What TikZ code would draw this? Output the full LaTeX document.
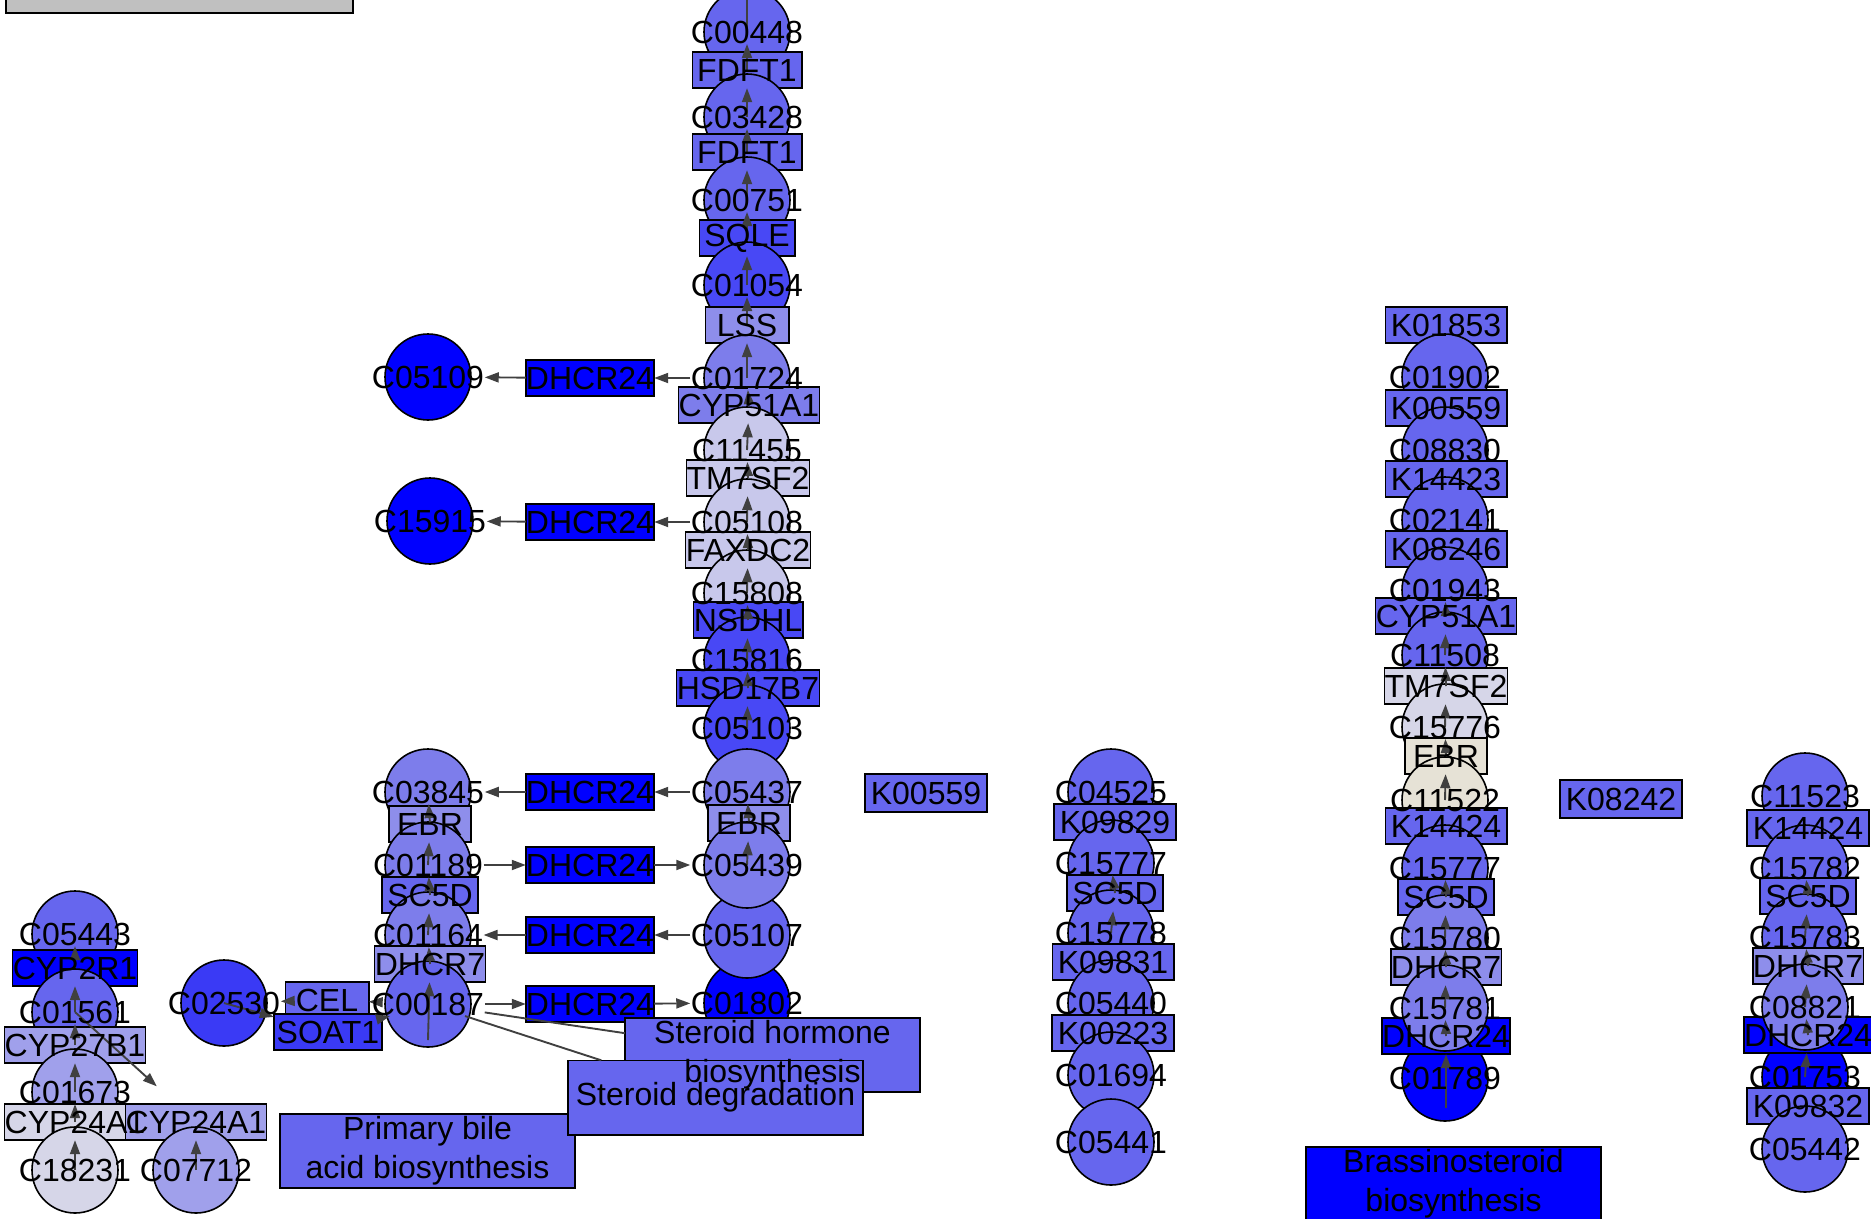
\documentclass[tikz,border=0pt]{standalone}
\usepackage{fontspec}
\setmainfont{Liberation Sans}
\usetikzlibrary{arrows.meta, calc}

\definecolor{kblue}{RGB}{0,0,255}
\definecolor{k80}{RGB}{58,58,245}
\definecolor{k70}{RGB}{72,72,245}
\definecolor{k60}{RGB}{102,102,238}
\definecolor{k50}{RGB}{125,125,235}
\definecolor{k45}{RGB}{142,142,235}
\definecolor{k35}{RGB}{160,160,235}
\definecolor{k20}{RGB}{200,200,235}
\definecolor{k10}{RGB}{214,214,232}
\definecolor{kbeige}{RGB}{230,226,214}
\definecolor{kgray}{RGB}{192,192,192}
\definecolor{klink}{RGB}{64,64,64}

\pgfdeclarelayer{shapes}
\pgfdeclarelayer{links}
\pgfsetlayers{shapes,links,main}

\newcommand{\keggfont}{\fontsize{32}{39}\selectfont}

\begin{document}
\begin{tikzpicture}[
        x=1pt, y=-1pt,
        every node/.style={font=\keggfont, text=black},
        cpd/.style={inner sep=0.5pt,
            append after command={\pgfextra{\begin{pgfonlayer}{shapes}
                \draw[line width=1.6pt, fill=#1] (\tikzlastnode.center) circle[radius=43pt];
            \end{pgfonlayer}}}},
        gene/.style={inner sep=0pt, minimum height=36pt,
            append after command={\pgfextra{\begin{pgfonlayer}{shapes}
                \draw[line width=1.6pt, fill=#1] (\tikzlastnode.south west) rectangle (\tikzlastnode.north east);
            \end{pgfonlayer}}}},
        pathway/.style={gene=#1, minimum width=295pt, minimum height=74pt, align=center},
        link/.style={draw=klink, line width=1.9pt, -{Triangle[length=14pt, width=10pt]}}
    ]

    \useasboundingbox (0,0) rectangle (1871,1218);

    \node[gene=kgray, minimum width=347, minimum height=60] (cutoff) at (179.5,-17) {};

    % main column
    \node[cpd=k60] (c00448) at (747,32) {C00448};
    \node[gene=k60, minimum width=109] (fdft1a) at (747,70) {FDFT1};
    \node[cpd=k60] (c03428) at (747,117) {C03428};
    \node[gene=k60, minimum width=109] (fdft1b) at (747,152) {FDFT1};
    \node[cpd=k60] (c00751) at (747,200) {C00751};
    \node[gene=k70, minimum width=95] (sqle) at (747,238) {SQLE};
    \node[cpd=k70] (c01054) at (747,285) {C01054};
    \node[gene=k45, minimum width=83] (lss) at (747,325) {LSS};
    \node[cpd=k50] (c01724) at (747,378) {C01724};
    \node[gene=k50, minimum width=134] (cyp51a) at (749,405) {CYP51A1};
    \node[cpd=k20] (c11455) at (747,450) {C11455};
    \node[gene=k20, minimum width=121] (tm7sf2a) at (748,478) {TM7SF2};
    \node[cpd=k20] (c05108) at (747,522) {C05108};
    \node[gene=k20, minimum width=121] (faxdc2) at (748,550) {FAXDC2};
    \node[cpd=k20] (c15808) at (747,593) {C15808};
    \node[gene=k70, minimum width=109] (nsdhl) at (748,620) {NSDHL};
    \node[cpd=k70] (c15816) at (747,660) {C15816};
    \node[gene=k70, minimum width=135] (hsd17b7) at (748,688) {HSD17B7};
    \node[cpd=k70] (c05103) at (747,728) {C05103};
    \node[cpd=kblue] (c01802) at (747,1003) {C01802};
    \node[cpd=k60] (c05107) at (747,935) {C05107};
    \node[cpd=k50] (c05437) at (747,792) {C05437};
    \node[gene=k45, minimum width=82] (ebra) at (749,823) {EBR};
    \node[cpd=k50] (c05439) at (747,865) {C05439};

    \node[gene=kblue, minimum width=123] (dhcr24a) at (590,378) {DHCR24};
    \node[cpd=kblue] (c05109) at (428,377) {C05109};
    \node[gene=kblue, minimum width=123] (dhcr24b) at (590,522) {DHCR24};
    \node[cpd=kblue] (c15915) at (430,521) {C15915};
    \node[gene=kblue, minimum width=123] (dhcr24c) at (590,792) {DHCR24};
    \node[gene=kblue, minimum width=123] (dhcr24d) at (590,865) {DHCR24};
    \node[gene=kblue, minimum width=123] (dhcr24e) at (590,935) {DHCR24};
    \node[gene=kblue, minimum width=123] (dhcr24f) at (590,1004) {DHCR24};

    % cholesterol side
    \node[cpd=k50] (c03845) at (428,792) {C03845};
    \node[gene=k45, minimum width=82] (ebrb) at (430,824) {EBR};
    \node[cpd=k50] (c01189) at (428,865) {C01189};
    \node[gene=k60, minimum width=96] (sc5da) at (430,895) {SC5D};
    \node[cpd=k50] (c01164) at (428,935) {C01164};
    \node[gene=k45, minimum width=108] (dhcr7a) at (430,964) {DHCR7};
    \node[cpd=k60] (c00187) at (428,1004) {C00187};

    \node[cpd=k80] (c02530) at (224,1003) {C02530};
    \node[gene=k60, minimum width=83] (cel) at (327,1000) {CEL};
    \node[gene=k80, minimum width=108] (soat1) at (328,1032) {SOAT1};

    % vitamin D
    \node[cpd=k60] (c05443) at (75,934) {C05443};
    \node[gene=kblue, minimum width=123] (cyp2r1) at (75,968) {CYP2R1};
    \node[cpd=k60] (c01561) at (75,1012) {C01561};
    \node[gene=k35, minimum width=135] (cyp27b1) at (75,1045) {CYP27B1};
    \node[cpd=k35] (c01673) at (75,1092) {C01673};
    \node[gene=k10, minimum width=134] (cyp24a) at (75,1122) {CYP24A1};
    \node[gene=k35, minimum width=134] (cyp24b) at (196,1122) {CYP24A1};
    \node[cpd=k10] (c18231) at (75,1170) {C18231};
    \node[cpd=k35] (c07712) at (196,1170) {C07712};

    \node[pathway=k60] (bile) at (427.5,1151) {Primary bile\\acid biosynthesis};
    \node[pathway=k60] (hormone) at (772.5,1055) {Steroid hormone\\biosynthesis};
    \node[pathway=k60] (degradation) at (715.5,1097.5) {Steroid degradation};

    \node[gene=k60, minimum width=122, minimum height=38] (k00559a) at (926,793) {K00559};

    % column C04525
    \node[cpd=k60] (c04525) at (1111,792) {C04525};
    \node[gene=k60, minimum width=122] (k09829) at (1115,822) {K09829};
    \node[cpd=k60] (c15777a) at (1111,863) {C15777};
    \node[gene=k60, minimum width=96] (sc5db) at (1115,893) {SC5D};
    \node[cpd=k60] (c15778) at (1111,933) {C15778};
    \node[gene=k60, minimum width=121] (k09831) at (1113,962) {K09831};
    \node[cpd=k60] (c05440) at (1111,1003) {C05440};
    \node[gene=k60, minimum width=122] (k00223) at (1113,1033) {K00223};
    \node[cpd=k60] (c01694) at (1111,1075) {C01694};
    \node[cpd=k60] (c05441) at (1111,1142) {C05441};

    % brassinosteroid column
    \node[gene=k60, minimum width=121] (k01853) at (1446,325) {K01853};
    \node[cpd=k60] (c01902) at (1445,377) {C01902};
    \node[gene=k60, minimum width=121] (k00559b) at (1446,408) {K00559};
    \node[cpd=k60] (c08830) at (1445,450) {C08830};
    \node[gene=k60, minimum width=121] (k14423) at (1446,479) {K14423};
    \node[cpd=k60] (c02141) at (1445,520) {C02141};
    \node[gene=k60, minimum width=121] (k08246) at (1446,549) {K08246};
    \node[cpd=k60] (c01943) at (1445,590) {C01943};
    \node[gene=k60, minimum width=136] (cyp51b) at (1446,616) {CYP51A1};
    \node[cpd=k60] (c11508) at (1445,655) {C11508};
    \node[gene=k10, minimum width=121] (tm7sf2b) at (1446,686) {TM7SF2};
    \node[cpd=k10] (c15776) at (1445,727) {C15776};
    \node[gene=kbeige, minimum width=82] (ebrc) at (1446,756) {EBR};
    \node[cpd=kbeige] (c11522) at (1445,800) {C11522};
    \node[gene=k60, minimum width=121] (k14424a) at (1446,826) {K14424};
    \node[cpd=k60] (c15777b) at (1445,868) {C15777};
    \node[gene=k60, minimum width=96] (sc5dc) at (1446,897) {SC5D};
    \node[cpd=k50] (c15780) at (1445,938) {C15780};
    \node[gene=k45, minimum width=109] (dhcr7b) at (1446,967) {DHCR7};
    \node[cpd=kblue] (c01789) at (1445,1078) {C01789};
    \node[gene=kblue, minimum width=121] (dhcr24g) at (1446,1036) {DHCR24};
    \node[cpd=k50] (c15781) at (1445,1008) {C15781};

    \node[pathway=kblue] (brassino) at (1453.5,1184) {Brassinosteroid\\biosynthesis};

    \node[gene=k60, minimum width=122, minimum height=38] (k08242) at (1621,799) {K08242};

    % right column
    \node[cpd=k60] (c11523) at (1805,796) {C11523};
    \node[gene=k60, minimum width=122] (k14424b) at (1808,828) {K14424};
    \node[cpd=k60] (c15782) at (1805,868) {C15782};
    \node[gene=k60, minimum width=96] (sc5dd) at (1808,896) {SC5D};
    \node[cpd=k60] (c15783) at (1805,937) {C15783};
    \node[gene=k45, minimum width=110] (dhcr7c) at (1808,966) {DHCR7};
    \node[cpd=kblue] (c01753) at (1805,1077) {C01753};
    \node[gene=kblue, minimum width=122] (dhcr24h) at (1808,1035) {DHCR24};
    \node[cpd=k50] (c08821) at (1805,1007) {C08821};
    \node[gene=k60, minimum width=122] (k09832) at (1808,1106) {K09832};
    \node[cpd=k60] (c05442) at (1805,1149) {C05442};

    \coordinate (offtop) at (747,-10);
    \coordinate (c00187tail) at (428,1040);
    \coordinate (c00187soat) at (390,1016);
    \coordinate (c01789tail) at (1446,1108);

    \begin{pgfonlayer}{links}
        \draw[link, -] (c00448.center) -- (offtop);
        \draw[link] (fdft1a.center) -- (c00448);
        \draw[link] (c03428.center) -- (fdft1a);
        \draw[link] (fdft1b.center) -- (c03428);
        \draw[link] (c00751.center) -- (fdft1b);
        \draw[link] (sqle.center) -- (c00751);
        \draw[link] (c01054.center) -- (sqle);
        \draw[link] (lss.center) -- (c01054);
        \draw[link] (c01724.center) -- (lss);
        \draw[link] (cyp51a.center) -- (c01724);
        \draw[link] (c11455.center) -- (cyp51a);
        \draw[link] (tm7sf2a.center) -- (c11455);
        \draw[link] (c05108.center) -- (tm7sf2a);
        \draw[link] (faxdc2.center) -- (c05108);
        \draw[link] (c15808.center) -- (faxdc2);
        \draw[link] (nsdhl.center) -- (c15808);
        \draw[link] (c15816.center) -- (nsdhl);
        \draw[link] (hsd17b7.center) -- (c15816);
        \draw[link] (c05103.center) -- (hsd17b7);
        \draw[link] (c05439.center) -- (ebra);
        \draw[link] (ebra.center) -- (c05437);

        \draw[link] (c01724) -- (dhcr24a);
        \draw[link] (dhcr24a) -- (c05109);
        \draw[link] (c05108) -- (dhcr24b);
        \draw[link] (dhcr24b) -- (c15915);
        \draw[link] (c05437) -- (dhcr24c);
        \draw[link] (dhcr24c) -- (c03845);
        \draw[link] (c01189) -- (dhcr24d);
        \draw[link] (dhcr24d) -- (c05439);
        \draw[link] (c05107) -- (dhcr24e);
        \draw[link] (dhcr24e) -- (c01164);
        \draw[link] (c00187) -- (dhcr24f);
        \draw[link] (dhcr24f) -- (c01802);

        \draw[link] (c00187tail) -- (dhcr7a);
        \draw[link] (dhcr7a.center) -- (c01164);
        \draw[link] (c01164.center) -- (sc5da);
        \draw[link] (sc5da.center) -- (c01189);
        \draw[link] (c01189.center) -- (ebrb);
        \draw[link] (ebrb.center) -- (c03845);
        \draw[link, -] (c00187) -- (hormone);
        \draw[link, -] (c00187) -- (degradation);

        \draw[link] (c00187) -- (cel);
        \draw[link] (cel) -- (c02530);
        \draw[link] (c02530.center) -- (soat1);
        \draw[link] (soat1) -- (c00187soat);

        \draw[link] (c18231.center) -- (cyp24a);
        \draw[link] (cyp24a.center) -- (c01673);
        \draw[link] (c01673.center) -- (cyp27b1);
        \draw[link] (cyp27b1.center) -- (c01561);
        \draw[link] (c01561.center) -- (cyp2r1);
        \draw[link] (cyp2r1.center) -- (c05443);
        \draw[link] (c07712.center) -- (cyp24b);
        \draw[link, shorten >=26pt] (c01561.center) -- (cyp24b);

        \draw[link] (c15778.center) -- (sc5db);
        \draw[link] (sc5db.center) -- (c15777a);

        \draw[link] (c01789tail) -- (dhcr24g);
        \draw[link] (dhcr24g.center) -- (c15781);
        \draw[link] (c15781.center) -- (dhcr7b);
        \draw[link] (dhcr7b.center) -- (c15780);
        \draw[link] (c15780.center) -- (sc5dc);
        \draw[link] (sc5dc.center) -- (c15777b);
        \draw[link] (c11522.center) -- (ebrc);
        \draw[link] (ebrc.center) -- (c15776);
        \draw[link] (c15776.center) -- (tm7sf2b);
        \draw[link] (tm7sf2b.center) -- (c11508);
        \draw[link] (c11508.center) -- (cyp51b);
        \draw[link] (cyp51b.center) -- (c01943);

        \draw[link] (c01753.center) -- (dhcr24h);
        \draw[link] (dhcr24h.center) -- (c08821);
        \draw[link] (c08821.center) -- (dhcr7c);
        \draw[link] (dhcr7c.center) -- (c15783);
        \draw[link] (c15783.center) -- (sc5dd);
        \draw[link] (sc5dd.center) -- (c15782);
    \end{pgfonlayer}

\end{tikzpicture}
\end{document}
